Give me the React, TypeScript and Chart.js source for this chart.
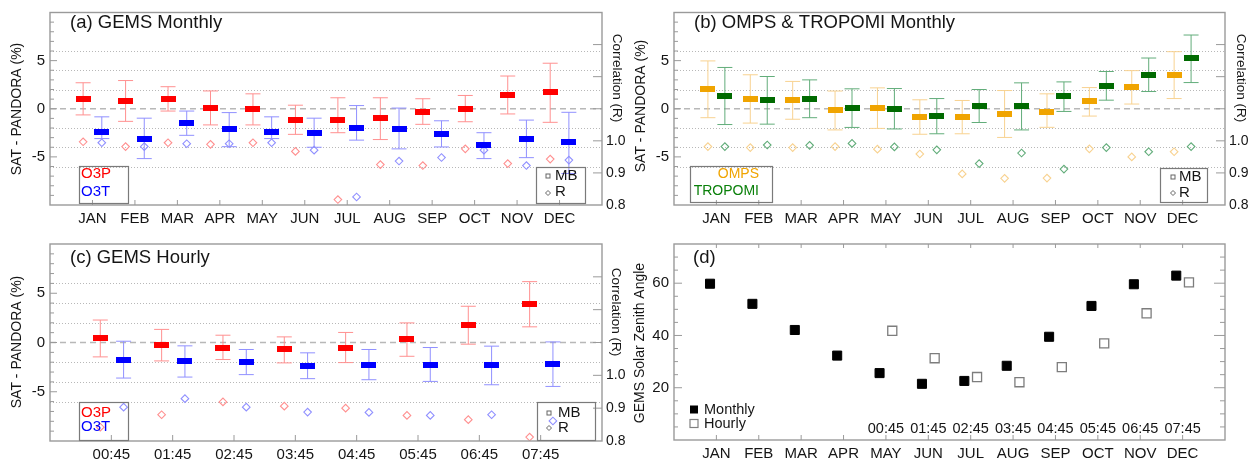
import React, { useEffect, useRef } from 'react';
import { Chart, registerables } from 'chart.js';

Chart.register(...registerables);

const FONT = "'Liberation Sans', Arial, Helvetica, sans-serif";
Chart.defaults.font.family = FONT;

const W = 1253;
const H = 465;

// ---------- categories ----------
const MONTHS = ['JAN', 'FEB', 'MAR', 'APR', 'MAY', 'JUN', 'JUL', 'AUG', 'SEP', 'OCT', 'NOV', 'DEC'];
const HOURS = ['00:45', '01:45', '02:45', '03:45', '04:45', '05:45', '06:45', '07:45'];
const MONTH_X = [1, 2, 3, 4, 5, 6, 7, 8, 9, 10, 11, 12];
const HOUR_X = [1, 2, 3, 4, 5, 6, 7, 8];
const HOUR_IN_D_X = [5, 6, 7, 8, 9, 10, 11, 12];

// ---------- (a) GEMS monthly ----------
const A_O3P_MB = [1.04, 0.78, 1.04, 0.1, -0.07, -1.14, -1.14, -1.01, -0.3, 0.0, 1.41, 1.69];
const A_O3P_HI = [2.7, 2.93, 2.29, 1.85, 1.55, 0.37, 1.14, 1.14, 1.04, 1.38, 3.4, 4.73];
const A_O3P_LO = [-0.64, -1.31, -0.24, -1.68, -1.68, -2.66, -2.49, -3.2, -1.62, -1.35, -0.54, -1.41];
const A_O3P_R = [0.997, 0.982, 0.994, 0.989, 0.994, 0.967, 0.817, 0.926, 0.923, 0.975, 0.929, 0.943];
const A_O3T_MB = [-2.42, -3.1, -1.48, -2.15, -2.42, -2.53, -1.95, -2.09, -2.63, -3.77, -3.13, -3.47];
const A_O3T_HI = [-0.84, -0.98, -0.24, -0.4, -0.84, -0.98, 0.33, 0.07, -1.25, -2.49, -1.18, -0.37];
const A_O3T_LO = [-3.1, -5.18, -2.76, -3.94, -3.1, -4.0, -3.26, -4.17, -3.97, -5.18, -5.08, -6.73];
const A_O3T_R = [0.994, 0.982, 0.991, 0.991, 0.994, 0.971, 0.825, 0.937, 0.948, 0.971, 0.923, 0.94];

// ---------- (b) OMPS & TROPOMI monthly ----------
const B_OMPS_MB = [2.07, 0.99, 0.89, -0.18, 0.08, -0.86, -0.86, -0.52, -0.35, 0.76, 2.24, 3.5];
const B_OMPS_HI = [4.97, 3.53, 2.84, 1.84, 2.17, 0.93, 0.86, 1.89, 1.55, 2.2, 3.96, 5.93];
const B_OMPS_LO = [-0.93, -1.49, -1.09, -2.2, -2.04, -2.65, -2.6, -2.98, -1.93, -0.76, 0.49, 1.06];
const B_OMPS_R = [0.982, 0.979, 0.979, 0.982, 0.974, 0.959, 0.897, 0.883, 0.884, 0.975, 0.95, 0.966];
const B_TROP_MB = [1.33, 0.89, 1.06, 0.08, -0.02, -0.76, 0.28, 0.25, 1.29, 2.4, 3.55, 5.23];
const B_TROP_HI = [4.29, 3.35, 3.0, 2.07, 2.1, 1.06, 2.0, 2.69, 2.79, 3.87, 5.27, 7.66];
const B_TROP_LO = [-1.64, -1.6, -0.93, -1.94, -2.1, -2.6, -1.43, -2.2, -0.28, 0.89, 1.79, 2.72];
const B_TROP_R = [0.982, 0.987, 0.986, 0.992, 0.981, 0.972, 0.929, 0.962, 0.912, 0.979, 0.966, 0.982];

// ---------- (c) GEMS hourly ----------
const C_O3P_MB = [0.41, -0.27, -0.51, -0.71, -0.51, 0.31, 1.8, 3.93];
const C_O3P_HI = [2.28, 1.33, 0.74, 0.57, 1.02, 1.99, 3.68, 6.18];
const C_O3P_LO = [-1.46, -1.87, -1.73, -2.07, -2.04, -1.4, -0.17, 1.59];
const C_O3P_R = [0.842, 0.88, 0.919, 0.906, 0.9, 0.878, 0.865, 0.812];
const C_O3T_MB = [-1.73, -1.87, -1.98, -2.38, -2.28, -2.24, -2.31, -2.14];
const C_O3T_HI = [0.13, -0.34, -0.71, -1.05, -0.71, -0.51, -0.37, 0.06];
const C_O3T_LO = [-3.61, -3.51, -3.26, -3.67, -3.78, -3.95, -4.29, -4.46];
const C_O3T_R = [0.903, 0.929, 0.903, 0.888, 0.887, 0.878, 0.88, 0.861];

// ---------- (d) GEMS solar zenith angle ----------
const D_MONTHLY = [59.8, 52.1, 42.1, 32.3, 25.6, 21.5, 22.6, 28.4, 39.5, 51.3, 59.6, 62.9];
const D_HOURLY = [41.8, 31.3, 24.1, 22.1, 27.9, 37.0, 48.5, 60.3];

// ---------- tick / grid values ----------
const MB_GRID_DOTTED = [-6, -4, -2, 2, 4, 6];
const MB_GRID_DASHED = [0];
const MB_MINOR = [-9, -8, -7, -6, -4, -3, -2, -1, 1, 2, 3, 4, 6, 7, 8, 9];
const MB_MAJOR = [-5, 0, 5];
const R_MAJOR = [0.9, 1.0, 1.1, 1.2, 1.3];
const SZA_MINOR = [5, 10, 15, 25, 30, 35, 45, 50, 55, 65, 70];
const SZA_MAJOR = [20, 40, 60];

// ---------- colours ----------
const RED = '#ff0000';
const RED_L = '#ff9090';
const BLUE = '#0000ff';
const BLUE_L = '#9090ff';
const ORANGE = '#f0a400';
const ORANGE_L = '#f8d290';
const GREEN = '#006a00';
const GREEN_L = '#62ad7a';
const FRAME = '#9a9a9a';
const TXT = '#151515';

function rectImg(w: number, h: number, color: string) {
  const c = document.createElement('canvas');
  c.width = w;
  c.height = h;
  const g = c.getContext('2d')!;
  g.fillStyle = color;
  g.fillRect(0, 0, w, h);
  return c;
}

function errorSeries(
  xs: number[], mb: number[], hi: number[], lo: number[], r: number[],
  off: number, strong: string, light: string
) {
  const pts = (ys: number[]) => ys.map((y, i) => ({ x: xs[i] + off, y }));
  const wh: any[] = [];
  xs.forEach((x, i) => {
    wh.push({ x: x + off, y: lo[i] }, { x: x + off, y: hi[i] }, { x: x + off, y: null });
  });
  return [
    {
      type: 'line', data: wh, borderColor: light, borderWidth: 1, pointRadius: 0,
      spanGaps: false, order: 3, yAxisID: 'y', xAxisID: 'x', tension: 0,
    },
    {
      type: 'scatter', data: [...pts(hi), ...pts(lo)], pointStyle: 'line', pointRadius: 7.5,
      borderColor: light, borderWidth: 1, order: 2, yAxisID: 'y', xAxisID: 'x',
    },
    {
      type: 'scatter', data: pts(mb), pointStyle: rectImg(15, 6, strong), pointRadius: 7,
      order: 1, yAxisID: 'y', xAxisID: 'x',
    },
    {
      type: 'scatter', data: pts(r), pointStyle: 'rectRot', pointRadius: 3.8,
      borderColor: light, backgroundColor: 'rgba(0,0,0,0)', borderWidth: 1.1, order: 1,
      yAxisID: 'yR', xAxisID: 'x',
    },
  ];
}

const noGrid = { display: false, drawTicks: false, tickLength: 0 };

function errScales(xMax: number, labels: string[], xH: number) {
  return {
    x: {
      type: 'linear', min: 0, max: xMax, grid: noGrid, border: { display: false },
      ticks: {
        stepSize: 1, autoSkip: false, maxRotation: 0, minRotation: 0, padding: 6, color: TXT,
        font: { size: 15, lineHeight: 1 },
        callback: (v: number) => labels[Math.round(v) - 1] ?? '',
      },
      afterFit: (s: any) => { s.height = xH; },
    },
    y: {
      type: 'linear', position: 'left', min: -10, max: 10, grid: noGrid, border: { display: false },
      ticks: {
        stepSize: 5, padding: 5, color: TXT, font: { size: 15, lineHeight: 1 },
        callback: (v: number) => (Math.abs(v) > 9 ? '' : String(v)),
      },
      afterFit: (s: any) => { s.width = 50; },
    },
    yR: {
      type: 'linear', position: 'right', min: 0.8, max: 1.4, grid: noGrid, border: { display: false },
      ticks: {
        stepSize: 0.1, padding: 4, color: TXT, font: { size: 14, lineHeight: 1 },
        callback: (v: number) => {
          const r = Math.round(v * 10) / 10;
          return r <= 1.0 ? r.toFixed(1) : '';
        },
      },
      afterFit: (s: any) => { s.width = 24; },
    },
  };
}

const decoPlugin = {
  id: 'deco',
  beforeDatasetsDraw(chart: any, _a: any, o: any) {
    const ca = chart.chartArea;
    const ctx = chart.ctx;
    if (!o.grid) return;
    const sc = chart.scales[o.grid.axis];
    ctx.save();
    ctx.lineWidth = 1;
    ctx.strokeStyle = '#b8b8b8';
    ctx.setLineDash([1, 2]);
    for (const v of o.grid.dotted) {
      const y = Math.round(sc.getPixelForValue(v)) + 0.5;
      ctx.beginPath();
      ctx.moveTo(ca.left, y);
      ctx.lineTo(ca.right, y);
      ctx.stroke();
    }
    ctx.setLineDash([6, 4]);
    ctx.strokeStyle = '#b8b8b8';
    ctx.lineWidth = 1.4;
    for (const v of o.grid.dashed) {
      const y = sc.getPixelForValue(v);
      ctx.beginPath();
      ctx.moveTo(ca.left, y);
      ctx.lineTo(ca.right, y);
      ctx.stroke();
    }
    ctx.restore();
  },
  afterDraw(chart: any, _a: any, o: any) {
    const ca = chart.chartArea;
    const ctx = chart.ctx;
    ctx.save();
    // frame
    ctx.strokeStyle = FRAME;
    ctx.lineWidth = 1.4;
    ctx.strokeRect(ca.left, ca.top, ca.right - ca.left, ca.bottom - ca.top);
    // inward ticks
    ctx.lineWidth = 1;
    for (const t of o.ticks || []) {
      const sc = chart.scales[t.axis];
      for (const v of t.values) {
        const p = sc.getPixelForValue(v);
        ctx.beginPath();
        if (t.side === 'left') { ctx.moveTo(ca.left, p); ctx.lineTo(ca.left + t.len, p); }
        if (t.side === 'right') { ctx.moveTo(ca.right, p); ctx.lineTo(ca.right - t.len, p); }
        if (t.side === 'bottom') { ctx.moveTo(p, ca.bottom); ctx.lineTo(p, ca.bottom - t.len); }
        if (t.side === 'top') { ctx.moveTo(p, ca.top); ctx.lineTo(p, ca.top + t.len); }
        ctx.stroke();
      }
    }
    // legend boxes
    ctx.strokeStyle = '#7a7a7a';
    ctx.lineWidth = 1.2;
    for (const b of o.boxes || []) {
      ctx.strokeRect(b[0] + 0.5, b[1] + 0.5, b[2], b[3]);
    }
    // symbols
    for (const s of o.syms || []) {
      ctx.strokeStyle = s.color;
      ctx.fillStyle = s.color;
      ctx.lineWidth = s.lw || 1;
      if (s.kind === 'sq') ctx.strokeRect(s.x - s.s / 2, s.y - s.s / 2, s.s, s.s);
      if (s.kind === 'fsq') ctx.fillRect(s.x - s.s / 2, s.y - s.s / 2, s.s, s.s);
      if (s.kind === 'osq') ctx.strokeRect(s.x - s.s / 2, s.y - s.s / 2, s.s, s.s);
      if (s.kind === 'dia') {
        ctx.beginPath();
        ctx.moveTo(s.x, s.y - s.s);
        ctx.lineTo(s.x + s.s, s.y);
        ctx.lineTo(s.x, s.y + s.s);
        ctx.lineTo(s.x - s.s, s.y);
        ctx.closePath();
        ctx.stroke();
      }
    }
    // texts
    for (const t of o.texts || []) {
      ctx.save();
      ctx.font = `${t.size}px ${FONT}`;
      ctx.fillStyle = t.color || TXT;
      ctx.textAlign = t.align || (t.rot ? 'center' : 'left');
      ctx.textBaseline = 'middle';
      ctx.translate(t.x, t.y);
      if (t.rot) ctx.rotate((t.rot * Math.PI) / 180);
      ctx.fillText(t.t, 0, 0);
      ctx.restore();
    }
    // inner category labels (panel d)
    if (o.inner) {
      const sc = chart.scales[o.inner.axis];
      ctx.font = `${o.inner.size}px ${FONT}`;
      ctx.fillStyle = TXT;
      ctx.textAlign = 'center';
      ctx.textBaseline = 'middle';
      o.inner.values.forEach((v: number, i: number) => {
        ctx.fillText(o.inner.labels[i], sc.getPixelForValue(v), o.inner.y);
      });
    }
    ctx.restore();
  },
};

function baseOptions(padding: any, deco: any, scales: any) {
  return {
    animation: false,
    responsive: false,
    devicePixelRatio: 1,
    events: [],
    layout: { padding },
    plugins: { legend: { display: false }, tooltip: { enabled: false }, deco },
    scales,
  };
}

function mbTicks(xValues: number[], bottomLen: number) {
  return [
    { axis: 'y', side: 'left', values: MB_MINOR, len: 4 },
    { axis: 'y', side: 'left', values: MB_MAJOR, len: 7 },
    { axis: 'yR', side: 'right', values: R_MAJOR, len: 9 },
    { axis: 'x', side: 'bottom', values: xValues, len: bottomLen },
  ];
}

function makeA() {
  return {
    type: 'scatter',
    data: {
      datasets: [
        ...errorSeries(MONTH_X, A_O3P_MB, A_O3P_HI, A_O3P_LO, A_O3P_R, -0.22, RED, RED_L),
        ...errorSeries(MONTH_X, A_O3T_MB, A_O3T_HI, A_O3T_LO, A_O3T_R, 0.22, BLUE, BLUE_L),
      ],
    },
    options: baseOptions(
      { left: 0, top: 9, right: W - 602 - 24, bottom: H - 205 - 27 },
      {
        grid: { axis: 'y', dotted: MB_GRID_DOTTED, dashed: MB_GRID_DASHED },
        ticks: mbTicks(MONTH_X, 5),
        boxes: [[79, 166, 49, 37], [536, 167, 49, 36]],
        syms: [
          { kind: 'sq', x: 548, y: 176, s: 4, color: '#666' },
          { kind: 'dia', x: 548, y: 193, s: 2.5, color: '#666' },
        ],
        texts: [
          { t: '(a) GEMS Monthly', x: 70, y: 23, size: 18.5 },
          { t: 'SAT - PANDORA (%)', x: 17, y: 109, size: 14, rot: -90 },
          { t: 'Correlation (R)', x: 617, y: 78, size: 13.5, rot: 90 },
          { t: 'O3P', x: 81, y: 174, size: 15, color: RED },
          { t: 'O3T', x: 81, y: 192, size: 15, color: BLUE },
          { t: 'MB', x: 555, y: 176, size: 15 },
          { t: 'R', x: 555, y: 192, size: 15 },
        ],
      },
      errScales(13, MONTHS, 27)
    ),
    plugins: [decoPlugin],
  };
}

function makeB() {
  return {
    type: 'scatter',
    data: {
      datasets: [
        ...errorSeries(MONTH_X, B_OMPS_MB, B_OMPS_HI, B_OMPS_LO, B_OMPS_R, -0.2, ORANGE, ORANGE_L),
        ...errorSeries(MONTH_X, B_TROP_MB, B_TROP_HI, B_TROP_LO, B_TROP_R, 0.2, GREEN, GREEN_L),
      ],
    },
    options: baseOptions(
      { left: 674 - 50, top: 9, right: W - 1225 - 24, bottom: H - 205 - 27 },
      {
        grid: { axis: 'y', dotted: MB_GRID_DOTTED, dashed: MB_GRID_DASHED },
        ticks: mbTicks(MONTH_X, 5),
        boxes: [[690, 166, 82, 36], [1160, 168, 47, 34]],
        syms: [
          { kind: 'sq', x: 1173, y: 177, s: 4, color: '#666' },
          { kind: 'dia', x: 1173, y: 193, s: 2.5, color: '#666' },
        ],
        texts: [
          { t: '(b) OMPS & TROPOMI Monthly', x: 694, y: 23, size: 18.5 },
          { t: 'SAT - PANDORA (%)', x: 641, y: 106, size: 14, rot: -90 },
          { t: 'Correlation (R)', x: 1241, y: 78, size: 13.5, rot: 90 },
          { t: 'OMPS', x: 759, y: 174, size: 14, color: ORANGE, align: 'right' },
          { t: 'TROPOMI', x: 759, y: 191, size: 14, color: '#0a800a', align: 'right' },
          { t: 'MB', x: 1179, y: 177, size: 15 },
          { t: 'R', x: 1179, y: 193, size: 15 },
        ],
      },
      errScales(13, MONTHS, 27)
    ),
    plugins: [decoPlugin],
  };
}

function makeC() {
  return {
    type: 'scatter',
    data: {
      datasets: [
        ...errorSeries(HOUR_X, C_O3P_MB, C_O3P_HI, C_O3P_LO, C_O3P_R, -0.18, RED, RED_L),
        ...errorSeries(HOUR_X, C_O3T_MB, C_O3T_HI, C_O3T_LO, C_O3T_R, 0.2, BLUE, BLUE_L),
      ],
    },
    options: baseOptions(
      { left: 0, top: 244, right: W - 602 - 24, bottom: H - 441 - 20 },
      {
        grid: { axis: 'y', dotted: MB_GRID_DOTTED, dashed: MB_GRID_DASHED },
        ticks: mbTicks(HOUR_X, 6),
        boxes: [[79, 402, 49, 38], [537, 402, 58, 38]],
        syms: [
          { kind: 'sq', x: 549, y: 413, s: 4, color: '#666' },
          { kind: 'dia', x: 549, y: 428, s: 2.5, color: '#666' },
        ],
        texts: [
          { t: '(c) GEMS Hourly', x: 70, y: 258, size: 18.5 },
          { t: 'SAT - PANDORA (%)', x: 17, y: 342, size: 14, rot: -90 },
          { t: 'Correlation (R)', x: 616, y: 312, size: 13.5, rot: 90 },
          { t: 'O3P', x: 81, y: 413, size: 15, color: RED },
          { t: 'O3T', x: 81, y: 427, size: 15, color: BLUE },
          { t: 'MB', x: 558, y: 413, size: 15 },
          { t: 'R', x: 558, y: 428, size: 15 },
        ],
      },
      errScales(9, HOURS, 20)
    ),
    plugins: [decoPlugin],
  };
}

function makeD() {
  const mpts = D_MONTHLY.map((y, i) => ({ x: MONTH_X[i] - 0.15, y }));
  const hpts = D_HOURLY.map((y, i) => ({ x: HOUR_IN_D_X[i] + 0.15, y }));
  return {
    type: 'scatter',
    data: {
      datasets: [
        {
          data: mpts, pointStyle: 'rect', pointRadius: 6.4, backgroundColor: '#000',
          borderColor: '#000', borderWidth: 1,
        },
        {
          data: hpts, pointStyle: 'rect', pointRadius: 6.4, backgroundColor: '#fff',
          borderColor: '#7d7d7d', borderWidth: 1.3,
        },
      ],
    },
    options: baseOptions(
      { left: 674 - 50, top: 244, right: W - 1225, bottom: H - 440 - 20 },
      {
        ticks: [
          { axis: 'y', side: 'left', values: SZA_MINOR, len: 4 },
          { axis: 'y', side: 'left', values: SZA_MAJOR, len: 8 },
          { axis: 'y', side: 'right', values: SZA_MINOR, len: 5 },
          { axis: 'y', side: 'right', values: SZA_MAJOR, len: 11 },
          { axis: 'x', side: 'bottom', values: MONTH_X, len: 5 },
          { axis: 'x', side: 'top', values: MONTH_X, len: 4 },
        ],
        syms: [
          { kind: 'fsq', x: 694, y: 409.5, s: 8, color: '#000' },
          { kind: 'osq', x: 694, y: 423.5, s: 8, color: '#808080', lw: 1.2 },
        ],
        texts: [
          { t: '(d)', x: 693, y: 258, size: 18.5 },
          { t: 'GEMS Solar Zenith Angle', x: 640, y: 343, size: 14, rot: -90 },
          { t: 'Monthly', x: 704, y: 409.5, size: 14.5 },
          { t: 'Hourly', x: 704, y: 423.5, size: 14.5 },
        ],
        inner: { axis: 'x', values: HOUR_IN_D_X, labels: HOURS, y: 428.5, size: 14.5 },
      },
      {
        x: {
          type: 'linear', min: 0, max: 13, grid: noGrid, border: { display: false },
          ticks: {
            stepSize: 1, autoSkip: false, maxRotation: 0, minRotation: 0, padding: 6, color: TXT,
            font: { size: 15, lineHeight: 1 },
            callback: (v: number) => MONTHS[Math.round(v) - 1] ?? '',
          },
          afterFit: (s: any) => { s.height = 20; },
        },
        y: {
          type: 'linear', position: 'left', min: 0, max: 75, grid: noGrid, border: { display: false },
          ticks: {
            stepSize: 20, padding: 5, color: TXT, font: { size: 15, lineHeight: 1 },
            callback: (v: number) => (SZA_MAJOR.includes(v) ? String(v) : ''),
          },
          afterFit: (s: any) => { s.width = 50; },
        },
      }
    ),
    plugins: [decoPlugin],
  };
}

function Panel({ make }: { make: () => any }) {
  const ref = useRef<HTMLCanvasElement>(null);
  useEffect(() => {
    const chart = new Chart(ref.current as HTMLCanvasElement, make());
    return () => chart.destroy();
  }, []);
  return (
    <canvas
      ref={ref}
      width={W}
      height={H}
      style={{ position: 'absolute', left: 0, top: 0, width: W, height: H }}
    />
  );
}

export default function App() {
  return (
    <div style={{ position: 'absolute', left: 0, top: 0, width: W, height: H, background: '#fff' }}>
      <Panel make={makeA} />
      <Panel make={makeB} />
      <Panel make={makeC} />
      <Panel make={makeD} />
    </div>
  );
}
